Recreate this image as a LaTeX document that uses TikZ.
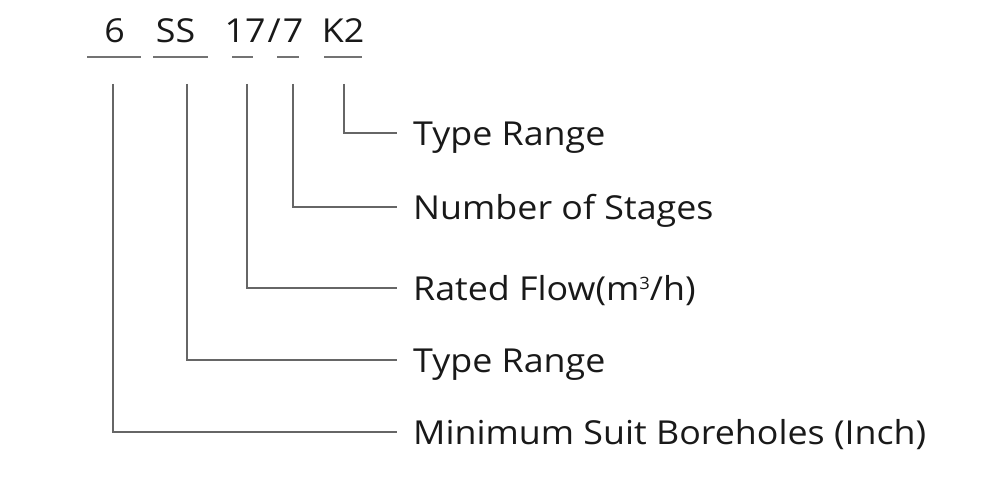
\documentclass[tikz,border=0pt]{standalone}
\usepackage{fontspec}
\setmainfont{Open Sans}
\newcommand\widetext[1]{\scalebox{1.085}[1]{#1}}
\newcommand\supthree{\raisebox{11pt}{\fontsize{17}{17}\selectfont 3}}
\begin{document}
\begin{tikzpicture}[x=1pt,y=-1pt,
  code/.style={font=\fontsize{33}{36}\selectfont, text=black!90, inner sep=0pt},
  lbl/.style={font=\fontsize{33}{36}\selectfont, text=black!90, inner sep=0pt, anchor=base west},
  uline/.style={draw=black!55, line width=1.3pt},
  conn/.style={draw=black!60, line width=1.4pt}]
\useasboundingbox (0,0) rectangle (1000,476);
\fill[white] (0,0) rectangle (1000,476);
% top code
\node[code, anchor=base] (c6) at (114.5,43) {\widetext{6}};
\node[code, anchor=base] (cSS) at (175.5,43) {\widetext{SS}};
\node[code, anchor=base] (c17) at (264,43) {\widetext{17\kern2pt/\kern2pt7}};
\node[code, anchor=base] (cK2) at (343,43) {\widetext{K2}};
% underlines
\draw[uline] (87,57) -- (141,57);
\draw[uline] (153,57) -- (208,57);
\draw[uline] (232,57) -- (253,57);
\draw[uline] (277,57) -- (299,57);
\draw[uline] (324,57) -- (362,57);
% connector starts
\coordinate (s6) at (113,84);
\coordinate (sSS) at (187,84);
\coordinate (s17) at (247,84);
\coordinate (s7) at (293,84);
\coordinate (sK2) at (344,84);
% connector ends
\coordinate (e1) at (397,133);
\coordinate (e2) at (397,207);
\coordinate (e3) at (397,288);
\coordinate (e4) at (397,360);
\coordinate (e5) at (397,432);
% labels
\node[lbl] (l1) at (413,145.5) {\widetext{Type Range}};
\node[lbl] (l2) at (413,219.5) {\widetext{Number of Stages}};
\node[lbl] (l3) at (413,300.5) {\widetext{Rated Flow(m\supthree/h)}};
\node[lbl] (l4) at (413,372.5) {\widetext{Type Range}};
\node[lbl] (l5) at (413,444.5) {\widetext{Minimum Suit Boreholes (Inch)}};
% connectors
\draw[conn] (sK2) |- (e1);
\draw[conn] (s7) |- (e2);
\draw[conn] (s17) |- (e3);
\draw[conn] (sSS) |- (e4);
\draw[conn] (s6) |- (e5);
\end{tikzpicture}
\end{document}
